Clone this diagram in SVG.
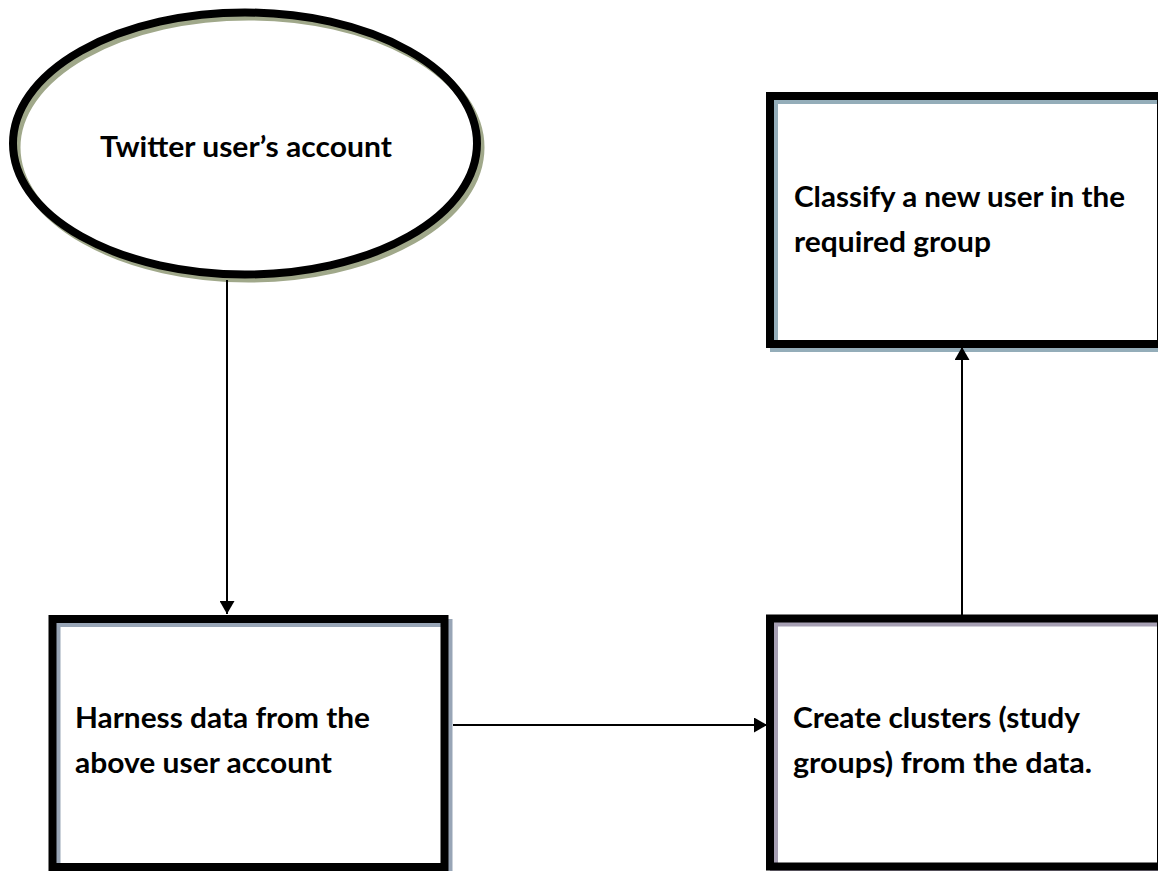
<svg xmlns="http://www.w3.org/2000/svg" width="1158" height="871" viewBox="0 0 1158 871">
<style>
  .lbl { font-family: Lato, "Open Sans", "Liberation Sans", sans-serif; font-weight: bold; font-size: 28px; fill: #000; }
  .edge { fill: none; stroke: #000; stroke-width: 8; }
  .conn { fill: none; stroke: #000; stroke-width: 2; }
</style>
<defs>
  <marker id="arrow" markerUnits="userSpaceOnUse" markerWidth="13" markerHeight="15" refX="13" refY="7.5" orient="auto">
    <path d="M0,0 L13,7.5 L0,15 z" fill="#000"/>
  </marker>
</defs>
<rect width="1158" height="871" fill="#fff"/>

<g id="node-twitter">
  <ellipse cx="248.5" cy="147.5" rx="232" ry="131" fill="none" stroke="#a0a88a" stroke-width="8"/>
  <ellipse cx="245" cy="143.5" rx="232" ry="131" class="edge"/>
  <text class="lbl" x="100" y="157" textLength="292" lengthAdjust="spacingAndGlyphs">Twitter user’s account</text>
</g>

<g id="node-classify">
  <rect x="774" y="100" width="391" height="248" fill="none" stroke="#94adb9" stroke-width="8"/>
  <rect x="770" y="96" width="391" height="248" class="edge"/>
  <text class="lbl" x="794" y="207" textLength="331" lengthAdjust="spacingAndGlyphs">Classify a new user in the</text>
  <text class="lbl" x="794" y="252" textLength="197" lengthAdjust="spacingAndGlyphs">required group</text>
</g>

<g id="node-harness">
  <rect x="56.5" y="623" width="392" height="248" fill="none" stroke="#98a5b6" stroke-width="8"/>
  <rect x="52.5" y="619" width="392" height="248" class="edge"/>
  <text class="lbl" x="75" y="728" textLength="295" lengthAdjust="spacingAndGlyphs">Harness data from the</text>
  <text class="lbl" x="75" y="773" textLength="257" lengthAdjust="spacingAndGlyphs">above user account</text>
</g>

<g id="node-clusters">
  <rect x="774" y="622.5" width="391" height="248" fill="none" stroke="#a69fb3" stroke-width="8"/>
  <rect x="770" y="618.5" width="391" height="248" class="edge"/>
  <text class="lbl" x="793" y="728" textLength="287" lengthAdjust="spacingAndGlyphs">Create clusters (study</text>
  <text class="lbl" x="793" y="773" textLength="299" lengthAdjust="spacingAndGlyphs">groups) from the data.</text>
</g>

<g id="connectors">
  <line class="conn" x1="227" y1="280" x2="227" y2="614" marker-end="url(#arrow)"/>
  <line class="conn" x1="453" y1="725" x2="767" y2="725" marker-end="url(#arrow)"/>
  <line class="conn" x1="962" y1="615" x2="962" y2="347" marker-end="url(#arrow)"/>
</g>
</svg>
